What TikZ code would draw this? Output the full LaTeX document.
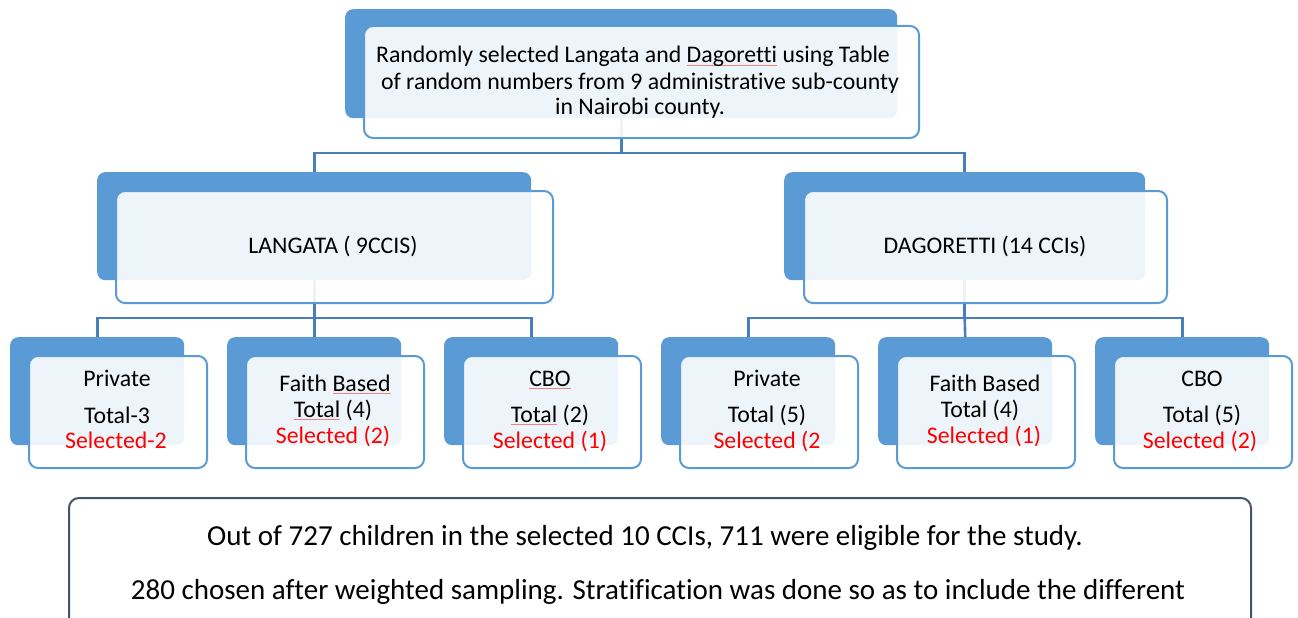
\documentclass[tikz,border=0pt]{standalone}
\usepackage{fontspec}
\setmainfont{Carlito}[Ligatures=NoCommon]
\usetikzlibrary{positioning}
\definecolor{accent}{HTML}{5B9BD5}
\definecolor{wire}{HTML}{4A7EBB}
\definecolor{slate}{HTML}{44546A}
\definecolor{hot}{HTML}{FF0000}
\definecolor{spell}{HTML}{F08080}
\newcommand{\spellmark}[1]{\setbox0\hbox{#1}\rlap{\textcolor{spell}{\rule[-2.2pt]{\wd0}{0.6pt}}}\box0\relax}
\tikzset{
  backbox/.style={draw=none, fill=accent, rounded corners=8pt, inner sep=0pt, anchor=north west},
  frontbox/.style={draw=accent, line width=2pt, fill=white, fill opacity=0.9, rounded corners=9pt, inner sep=0pt, anchor=north west},
  wireline/.style={draw=wire, line width=2.6pt},
  txt/.style={font=\fontsize{23.8}{28}\selectfont, text=black, inner sep=0pt, anchor=base},
  redtxt/.style={txt, text=hot},
  bigtxt/.style={txt, font=\fontsize{29}{34}\selectfont},
  notebox/.style={draw=slate, line width=2pt, fill=white, rounded corners=10pt, inner sep=0pt, anchor=north west},
}
\begin{document}
\begin{tikzpicture}[x=1pt, y=-1pt]
\useasboundingbox (0,0) rectangle (1298,618);
\clip (0,0) rectangle (1298,618);

% back panels
\node[backbox, minimum width=552pt, minimum height=109pt] (topB) at (345,9) {};
\node[backbox, minimum width=434pt, minimum height=108pt] (langB) at (97,172) {};
\node[backbox, minimum width=361pt, minimum height=108pt] (dagB) at (784,172) {};
\foreach \n/\x in {p1/10, f1/227, c1/444, p2/661, f2/878, c2/1095}
  \node[backbox, minimum width=174pt, minimum height=108pt] (\n B) at (\x,337) {};

% bus coordinates
\coordinate (busA) at (0,153);
\coordinate (busB) at (0,318);

% connectors
\draw[wireline] (topB.south) -- (topB.south |- busA) -| (langB.north);
\draw[wireline] (topB.south |- busA) -| (dagB.north);
\draw[wireline] (langB.south) -- (langB.south |- busB) -| (p1B.north);
\draw[wireline] (langB.south |- busB) -| (c1B.north);
\draw[wireline] (langB.south |- busB) -- (f1B.north);
\draw[wireline] (dagB.south) -- (dagB.south |- busB) -| (p2B.north);
\draw[wireline] (dagB.south |- busB) -| (c2B.north);
\draw[wireline] (dagB.south |- busB) -- (f2B.north);

% front panels
\node[frontbox, minimum width=555pt, minimum height=112pt] (topF) at (363,25) {};
\node[frontbox, minimum width=437pt, minimum height=112pt] (langF) at (115,190) {};
\node[frontbox, minimum width=363pt, minimum height=112pt] (dagF) at (803,190) {};
\foreach \n/\x in {p1/28, f1/245, c1/462, p2/679, f2/896, c2/1113}
  \node[frontbox, minimum width=178pt, minimum height=112pt] (\n F) at (\x,355) {};

% top text
\node[txt] (t1) at (633,63) {Randomly selected Langata and \spellmark{Dagoretti} using Table};
\node[txt] (t2) at (640,89) {of random numbers from 9 administrative sub-county};
\node[txt] (t3) at (640,114) {in Nairobi county.};

\node[txt] (lang) at (333,253) {LANGATA ( 9CCIS)};
\node[txt] (dag) at (985,253) {DAGORETTI (14 CCIs)};

% Langata branches
\node[txt] (p1a) at (117,386) {Private};
\node[txt] (p1b) at (117,423) {Total-3};
\node[redtxt] (p1c) at (116,448) {Selected-2};

\node[txt] (f1a) at (335,391) {Faith \spellmark{Based}};
\node[txt] (f1b) at (333,417) {\spellmark{Total} (4)};
\node[redtxt] (f1c) at (333,443) {Selected (2)};

\node[txt] (c1a) at (550,386) {\spellmark{CBO}};
\node[txt] (c1b) at (550,422) {\spellmark{Total} (2)};
\node[redtxt] (c1c) at (550,448) {Selected (1)};

% Dagoretti branches
\node[txt] (p2a) at (767,386) {Private};
\node[txt] (p2b) at (767,422) {Total (5)};
\node[redtxt] (p2c) at (767,448) {Selected (2};

\node[txt] (f2a) at (985,391) {Faith Based};
\node[txt] (f2b) at (980,417) {Total (4)};
\node[redtxt] (f2c) at (984,443) {Selected (1)};

\node[txt] (c2a) at (1202,386) {CBO};
\node[txt] (c2b) at (1202,422) {Total (5)};
\node[redtxt] (c2c) at (1200,448) {Selected (2)};

% summary box
\node[notebox, minimum width=1182pt, minimum height=140pt] (note) at (68,497) {};
\node[bigtxt] (n1) at (645,545) {Out of 727 children in the selected 10 CCIs, 711 were eligible for the study.};
\node[bigtxt] (n2) at (658,599) {280 chosen after weighted sampling. Stratification was done so as to include the different};
\end{tikzpicture}
\end{document}
